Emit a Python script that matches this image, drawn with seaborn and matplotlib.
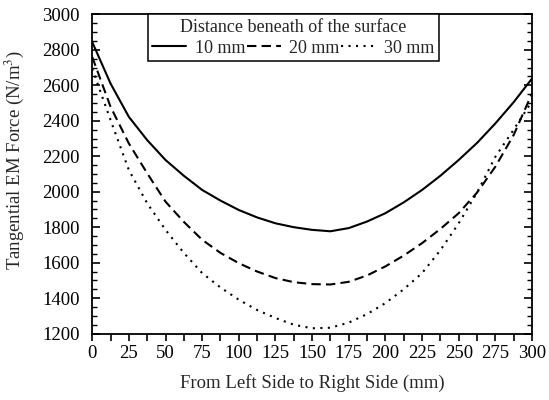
"""Tangential EM force beneath the surface"""

import pandas as pd
import matplotlib
matplotlib.use('Agg')
import matplotlib.pyplot as plt
import seaborn as sns
from matplotlib.ticker import MultipleLocator

# Data #######################################################################
POSITION_MM = [0, 12.5, 25, 37.5, 50, 62.5, 75, 87.5, 100, 112.5, 125, 137.5,
               150, 162.5, 175, 187.5, 200, 212.5, 225, 237.5, 250, 262.5,
               275, 287.5, 300]
FORCE_10MM = [2844, 2610, 2422, 2291, 2179, 2090, 2010, 1950, 1897, 1855, 1822,
              1800, 1785, 1777, 1795, 1832, 1879, 1940, 2010, 2090, 2179, 2275,
              2385, 2505, 2638]
FORCE_20MM = [2760, 2479, 2272, 2104, 1944, 1830, 1729, 1655, 1597, 1550, 1513,
              1490, 1479, 1477, 1492, 1528, 1579, 1640, 1710, 1790, 1879, 1995,
              2141, 2320, 2554]
FORCE_30MM = [2694, 2404, 2122, 1935, 1785, 1655, 1541, 1460, 1391, 1333, 1288,
              1250, 1230, 1233, 1262, 1310, 1372, 1450, 1541, 1670, 1822, 1995,
              2197, 2350, 2510]
SERIES = ['10 mm', '20 mm', '30 mm']
LINEWIDTH = 1.5
FONT = 'Liberation Serif'


def build_df():
    frames = []
    for name, vals in zip(SERIES, [FORCE_10MM, FORCE_20MM, FORCE_30MM]):
        frames.append(pd.DataFrame({'x': POSITION_MM, 'y': vals, 'depth': name}))
    return pd.concat(frames, ignore_index=True)


def gen_plot():
    sns.set_style('ticks')
    plt.rcParams['font.family'] = [FONT, 'DejaVu Serif']
    plt.rcParams['mathtext.fontset'] = 'stix'
    plt.rcParams['axes.linewidth'] = 1.3

    df = build_df()
    fig = plt.figure(figsize=(5.49, 4.0), dpi=100)
    ax = fig.add_axes([0.168, 0.166, 0.801, 0.798])

    sns.lineplot(ax=ax, data=df, x='x', y='y', hue='depth', style='depth',
                 hue_order=SERIES, style_order=SERIES,
                 palette=['black'] * 3,
                 dashes={'10 mm': '', '20 mm': (4.5, 2.5), '30 mm': (1, 2.6)},
                 linewidth=LINEWIDTH)

    ax.set_xlim(0, 300)
    ax.set_ylim(1200, 3000)
    ax.xaxis.set_major_locator(MultipleLocator(25))
    ax.xaxis.set_minor_locator(MultipleLocator(12.5))
    ax.yaxis.set_major_locator(MultipleLocator(200))
    ax.yaxis.set_minor_locator(MultipleLocator(50))

    for sp in ax.spines.values():
        sp.set_visible(True)
        sp.set_color('black')
        sp.set_linewidth(1.3)

    ax.tick_params(axis='x', which='both', direction='out', top=False,
                   labelsize=13.5, colors='black', pad=3)
    ax.tick_params(axis='x', which='major', length=5, width=1.2)
    ax.tick_params(axis='x', which='minor', length=5, width=1.2)
    ax.tick_params(axis='y', which='both', direction='in', right=True,
                   labelsize=13.5, colors='black', pad=9)
    ax.tick_params(axis='y', which='major', length=6, width=1.2)
    ax.tick_params(axis='y', which='minor', length=3.5, width=1.0)

    ax.set_xlabel('From Left Side to Right Side (mm)', fontsize=13.5, labelpad=9)
    ax.set_ylabel(r'Tangential EM Force (N/m$^3$)', fontsize=13.5)
    ax.yaxis.set_label_coords(-0.15, 0.545)

    # Legend ################################################
    handles, labels = ax.get_legend_handles_labels()
    leg = ax.legend(handles, labels, title='Distance beneath of the surface',
                    ncol=3, loc='upper center', bbox_to_anchor=(0.457, 1.0),
                    fontsize=13, title_fontsize=13, frameon=True, fancybox=False,
                    edgecolor='black', framealpha=1, borderpad=0.25,
                    handlelength=1.9, handletextpad=0.45, columnspacing=0.1,
                    borderaxespad=0, labelspacing=0.2)
    leg.get_frame().set_linewidth(1.1)

    fig.savefig('out.png', dpi=100)
    plt.close(fig)


if __name__ == '__main__':
    gen_plot()
